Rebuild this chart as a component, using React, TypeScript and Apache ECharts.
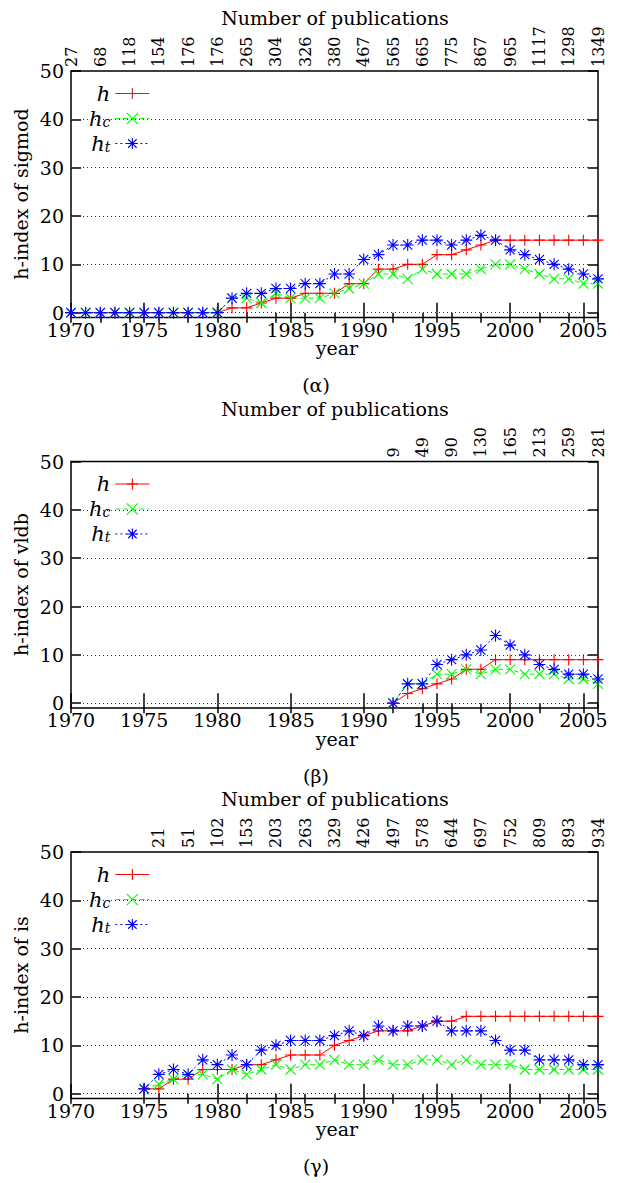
import React, { useEffect, useRef } from "react";
import * as echarts from "echarts";

// ---------- data ----------
const sigmodYears = [1970, 1971, 1972, 1973, 1974, 1975, 1976, 1977, 1978, 1979, 1980, 1981, 1982, 1983, 1984, 1985, 1986, 1987, 1988, 1989, 1990, 1991, 1992, 1993, 1994, 1995, 1996, 1997, 1998, 1999, 2000, 2001, 2002, 2003, 2004, 2005, 2006];
const sigmodH = [0, 0, 0, 0, 0, 0, 0, 0, 0, 0, 0, 1, 1, 2, 3, 3, 4, 4, 4, 6, 6, 9, 9, 10, 10, 12, 12, 13, 14, 15, 15, 15, 15, 15, 15, 15, 15];
const sigmodHc = [0, 0, 0, 0, 0, 0, 0, 0, 0, 0, 0, 3, 3, 2, 4, 3, 3, 3, 4, 5, 6, 8, 8, 7, 9, 8, 8, 8, 9, 10, 10, 9, 8, 7, 7, 6, 6];
const sigmodHt = [0, 0, 0, 0, 0, 0, 0, 0, 0, 0, 0, 3, 4, 4, 5, 5, 6, 6, 8, 8, 11, 12, 14, 14, 15, 15, 14, 15, 16, 15, 13, 12, 11, 10, 9, 8, 7];
const sigmodPubYears = [1970, 1972, 1974, 1976, 1978, 1980, 1982, 1984, 1986, 1988, 1990, 1992, 1994, 1996, 1998, 2000, 2002, 2004, 2006];
const sigmodPubs = [27, 68, 118, 154, 176, 176, 265, 304, 326, 380, 467, 565, 665, 775, 867, 965, 1117, 1298, 1349];

const vldbYears = [1992, 1993, 1994, 1995, 1996, 1997, 1998, 1999, 2000, 2001, 2002, 2003, 2004, 2005, 2006];
const vldbH = [0, 2, 3, 4, 5, 7, 7, 9, 9, 9, 9, 9, 9, 9, 9];
const vldbHc = [0, 4, 4, 6, 6, 7, 6, 7, 7, 6, 6, 6, 5, 5, 4];
const vldbHt = [0, 4, 4, 8, 9, 10, 11, 14, 12, 10, 8, 7, 6, 6, 5];
const vldbPubYears = [1992, 1994, 1996, 1998, 2000, 2002, 2004, 2006];
const vldbPubs = [9, 49, 90, 130, 165, 213, 259, 281];

const isYears = [1975, 1976, 1977, 1978, 1979, 1980, 1981, 1982, 1983, 1984, 1985, 1986, 1987, 1988, 1989, 1990, 1991, 1992, 1993, 1994, 1995, 1996, 1997, 1998, 1999, 2000, 2001, 2002, 2003, 2004, 2005, 2006];
const isH = [1, 1, 3, 3, 5, 5, 5, 6, 6, 7, 8, 8, 8, 10, 11, 12, 13, 13, 13, 14, 15, 15, 16, 16, 16, 16, 16, 16, 16, 16, 16, 16];
const isHc = [1, 2, 3, 4, 4, 3, 5, 4, 5, 6, 5, 6, 6, 7, 6, 6, 7, 6, 6, 7, 7, 6, 7, 6, 6, 6, 5, 5, 5, 5, 5, 5];
const isHt = [1, 4, 5, 4, 7, 6, 8, 6, 9, 10, 11, 11, 11, 12, 13, 12, 14, 13, 14, 14, 15, 13, 13, 13, 11, 9, 9, 7, 7, 7, 6, 6];
const isPubYears = [1976, 1978, 1980, 1982, 1984, 1986, 1988, 1990, 1992, 1994, 1996, 1998, 2000, 2002, 2004, 2006];
const isPubs = [21, 51, 102, 153, 203, 263, 329, 426, 497, 578, 644, 697, 752, 809, 893, 934];

const yearTicks = [1970, 1975, 1980, 1985, 1990, 1995, 2000, 2005];
const yTicks = [0, 10, 20, 30, 40, 50];
const gridValues = [0, 10, 20, 30, 40];
const yTitles = ["h-index of sigmod", "h-index of vldb", "h-index of is"];
const captions = ["(\u03b1)", "(\u03b2)", "(\u03b3)"];
const topTitle = "Number of publications";
const bottomTitle = "year";

// ---------- layout / style ----------
const FONT = '"DejaVu Serif", serif';
const FS = 19;
const TFS = 19;
const TOPFS = 16;
const LEFT = 71;
const RIGHT = 22;
const STEP = 390.5;
const TOP0 = 71;
const PLOT_H = 246.5;

const PLUS = "path://M5,0L5,10M0,5L10,5";
const CROSS = "path://M0,0L10,10M10,0L0,10";
const STAR = "path://M5,0L5,10M0,5L10,5M1.2,1.2L8.8,8.8M8.8,1.2L1.2,8.8";

const RED = "#ff0000";
const GREEN = "#00ff00";
const BLUE = "#0000ff";

const panels = [
  { years: sigmodYears, h: sigmodH, hc: sigmodHc, ht: sigmodHt, pubYears: sigmodPubYears, pubs: sigmodPubs, legendRed: "#a8322c" },
  { years: vldbYears, h: vldbH, hc: vldbHc, ht: vldbHt, pubYears: vldbPubYears, pubs: vldbPubs, legendRed: RED },
  { years: isYears, h: isH, hc: isHc, ht: isHt, pubYears: isPubYears, pubs: isPubs, legendRed: RED },
];

const legendLabel: Record<string, string> = {
  h: "{i|h}",
  hc: "{i|h}{s|c}",
  ht: "{i|h}{s|t}",
};

function txt(text: string, x: number, y: number, extra: any = {}, size = TFS, align = "center") {
  return {
    type: "text",
    x,
    y,
    silent: true,
    ...extra,
    style: { text, font: `${size}px ${FONT}`, fill: "#000", align, verticalAlign: "middle" },
  };
}

function buildOption(topLabels: any[]) {
  const grid: any[] = [];
  const xAxis: any[] = [];
  const yAxis: any[] = [];
  const series: any[] = [];
  const legend: any[] = [];
  const graphic: any[] = [];

  panels.forEach((p, i) => {
    const off = i * STEP;
    grid.push({
      left: LEFT,
      right: RIGHT,
      top: TOP0 + off,
      height: PLOT_H,
      show: true,
      borderColor: "#000",
      borderWidth: 1.5,
      backgroundColor: "transparent",
    });
    xAxis.push({
      type: "value",
      gridIndex: i,
      position: "bottom",
      min: 1970,
      max: 2006,
      axisLine: { show: false },
      splitLine: { show: false },
      axisTick: { show: true, inside: true, length: 10, customValues: yearTicks, lineStyle: { color: "#000", width: 1.5 } },
      axisLabel: {
        customValues: yearTicks,
        margin: 3,
        lineHeight: 18,
        fontFamily: FONT,
        fontSize: FS,
        color: "#000",
        formatter: (v: number) => String(Math.round(v)),
      },
    });
    const topTicks = Array.from(new Set([...yearTicks, ...p.pubYears])).sort((a, b) => a - b);
    xAxis.push({
      type: "value",
      gridIndex: i,
      position: "top",
      min: 1970,
      max: 2006,
      axisLine: { show: false },
      splitLine: { show: false },
      axisTick: { show: true, inside: true, length: 10, customValues: topTicks, lineStyle: { color: "#000", width: 1.5 } },
      axisLabel: { show: false },
    });
    yAxis.push({
      type: "value",
      gridIndex: i,
      position: "left",
      min: -1,
      max: 50,
      axisLine: { show: false },
      splitLine: { show: false },
      axisTick: { show: true, inside: true, length: 10, customValues: yTicks, lineStyle: { color: "#000", width: 1.5 } },
      axisLabel: { customValues: yTicks, margin: 7, lineHeight: 15, fontFamily: FONT, fontSize: FS, color: "#000" },
    });
    yAxis.push({
      type: "value",
      gridIndex: i,
      position: "right",
      min: -1,
      max: 50,
      axisLine: { show: false },
      splitLine: { show: false },
      axisTick: { show: true, inside: true, length: 10, customValues: yTicks, lineStyle: { color: "#000", width: 1.5 } },
      axisLabel: { show: false },
    });

    series.push({
      type: "line",
      name: "grid" + i,
      xAxisIndex: 2 * i,
      yAxisIndex: 2 * i,
      data: [],
      silent: true,
      markLine: {
        silent: true,
        symbol: ["none", "none"],
        label: { show: false },
        lineStyle: { color: "#333", width: 1, type: [1, 3] },
        emphasis: { disabled: true },
        data: gridValues.map((v) => ({ yAxis: v })),
      },
    });

    const mk = (name: string, vals: number[], color: string, symbol: string, size: number, dash: any) => ({
      type: "line",
      name: name + i,
      xAxisIndex: 2 * i,
      yAxisIndex: 2 * i,
      data: p.years.map((y, k) => [y, vals[k]]),
      symbol,
      symbolSize: size,
      showSymbol: true,
      showAllSymbol: true,
      color,
      lineStyle: { color, width: 1, type: dash },
      itemStyle: { color, borderColor: color, borderWidth: 1.1 },
      emphasis: { disabled: true },
      silent: true,
    });

    series.push(mk("h", p.h, RED, PLUS, 11, "solid"));
    series.push(mk("hc", p.hc, GREEN, CROSS, 10, [5, 3]));
    series.push(mk("ht", p.ht, BLUE, STAR, 12, [2, 3]));

    legend.push({
      orient: "vertical",
      align: "right",
      left: 84,
      top: 81 + off,
      data: [
        { name: "h" + i, itemStyle: { color: p.legendRed, borderColor: p.legendRed }, lineStyle: { color: p.legendRed } },
        { name: "hc" + i, itemStyle: { color: GREEN, borderColor: GREEN }, lineStyle: { color: GREEN } },
        { name: "ht" + i, itemStyle: { color: BLUE, borderColor: BLUE }, lineStyle: { color: BLUE } },
      ],
      itemWidth: 34,
      itemHeight: 14,
      itemGap: 4,
      padding: [2, 5, 2, 5],
      backgroundColor: "#fff",
      selectedMode: false,
      formatter: (n: string) => legendLabel[n.replace(/\d+$/, "")],
      itemStyle: { borderWidth: 1.1 },
      lineStyle: { width: 1 },
      textStyle: {
        fontFamily: FONT,
        fontSize: FS,
        color: "#000",
        rich: {
          i: { fontFamily: FONT, fontStyle: "italic", fontSize: 21, lineHeight: 20, color: "#000" },
          s: { fontFamily: FONT, fontStyle: "italic", fontSize: 14, lineHeight: 6, verticalAlign: "bottom", color: "#000" },
        },
      },
    });

    graphic.push(txt(topTitle, 335, 18 + off));
    graphic.push(txt(bottomTitle, 337, 348 + off));
    graphic.push(txt(captions[i], 316, 385 + off));
    graphic.push(txt(yTitles[i], 21, 194 + off, { rotation: Math.PI / 2 }));
  });

  return {
    animation: false,
    backgroundColor: "#fff",
    grid,
    xAxis,
    yAxis,
    series,
    legend,
    graphic: [...graphic, ...topLabels],
  };
}

export default function App() {
  const ref = useRef<HTMLDivElement>(null);
  useEffect(() => {
    const chart = echarts.init(ref.current!, null, { renderer: "svg" });
    chart.setOption(buildOption([]) as any);
    // publication-count labels above the top axis, placed through the top axis scale
    const labels: any[] = [];
    panels.forEach((p, i) => {
      const top = TOP0 + i * STEP;
      p.pubYears.forEach((yr, k) => {
        const x = chart.convertToPixel({ xAxisIndex: 2 * i + 1 }, yr) as number;
        labels.push(txt(String(p.pubs[k]), x, top - 4, { rotation: Math.PI / 2 }, TOPFS, "left"));
      });
    });
    chart.setOption(buildOption(labels) as any, { notMerge: true });
    return () => chart.dispose();
  }, []);
  return (
    <div
      ref={ref}
      style={{ position: "absolute", left: 0, top: 0, width: 620, height: 1183, background: "#fff" }}
    />
  );
}
